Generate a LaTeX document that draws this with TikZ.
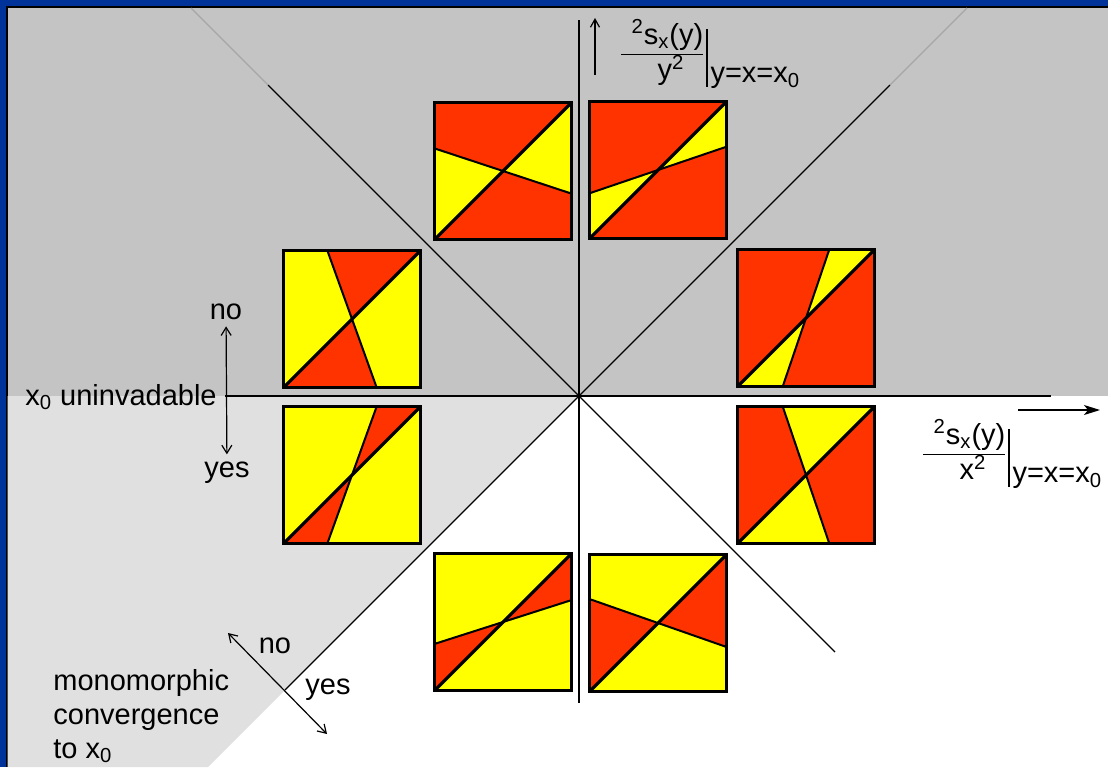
\documentclass[tikz,border=0pt]{standalone}
\usepackage{fontspec}
\setmainfont{Liberation Sans}
\usetikzlibrary{arrows.meta}
\definecolor{slideblue}{RGB}{0,51,153}
\definecolor{upgray}{RGB}{196,196,196}
\definecolor{lowgray}{RGB}{224,224,224}
\definecolor{pipred}{RGB}{255,51,0}
\definecolor{pipyellow}{RGB}{255,255,0}
% one sign plot: centre, background, wedge colour, end point of the second line
\newcommand{\pipsquare}[6]{%
  \begin{scope}[shift={(#1,#2)}, xscale=68.5, yscale=-68.5]
    \fill[#3] (-1,-1) rectangle (1,1);
    \fill[#4] (0,0) -- (1,1) -- (#5,#6) -- cycle
              (0,0) -- (-1,-1) -- ({-(#5)},{-(#6)}) -- cycle;
    \draw[sepline] (#5,#6) -- ({-(#5)},{-(#6)});
    \draw[diagline] (-1,-1) -- (1,1);
    \draw[boxline] (-1,-1) rectangle (1,1);
  \end{scope}}
\newcommand{\dtwo}[1]{%
  \begin{tabular}{@{}c@{}}\hspace{0.35em}\textsuperscript{2}s\textsubscript{x}(y)\\\hline\hspace{0.6em}#1\textsuperscript{2}\end{tabular}%
  \hspace{1.5pt}\vrule width 0.6pt height 16.6pt depth 12.4pt\hspace{1.5pt}%
  \raisebox{-10.4pt}{y=x=x\textsubscript{0}}}

\begin{document}
\begin{tikzpicture}[x=0.5pt, y=-0.5pt, font=\fontsize{14.5}{17}\selectfont,
  axis/.style={line width=0.6pt},
  faint/.style={line width=0.6pt, black!35},
  boxline/.style={line width=1.6pt},
  diagline/.style={line width=1.6pt},
  sepline/.style={line width=1pt},
  twoway/.style={line width=0.6pt, {Straight Barb[length=4pt,width=5pt]}-{Straight Barb[length=4pt,width=5pt]}}]
\useasboundingbox (0,0) rectangle (1108,767);
% background
\fill[slideblue] (0,0) rectangle (1108,6);
\fill[slideblue] (0,0) rectangle (6,767);
\draw[line width=1pt] (7,767) -- (7,7) -- (1108,7);
\coordinate (O) at (579,396);
\fill[upgray] (7.5,7.5) rectangle (1108,396);
\fill[lowgray] (7.5,396) -- (O) -- (208,767) -- (7.5,767) -- cycle;
% axes and diagonals
\draw[axis] (225,396) -- (1051,396);
\draw[axis] (579,20) -- (579,703);
\draw[axis] (O) -- (268,85);
\draw[faint] (268,85) -- (191,8);
\draw[axis] (O) -- (890,85);
\draw[faint] (890,85) -- (967,8);
\draw[axis] (O) -- (835,652);
\draw[axis] (O) -- (285,690);
\draw[line width=0.6pt, -{Straight Barb[length=4pt,width=4.5pt]}] (595,75) -- (595,18);
\draw[line width=0.6pt, -{Stealth[length=8pt,width=5pt,inset=2pt]}] (1018,410) -- (1100,410);
% sign plots
\pipsquare{503}{171}{pipred}{pipyellow}{1}{-0.33}
\pipsquare{658}{170}{pipred}{pipyellow}{1}{0.34}
\pipsquare{352}{319}{pipyellow}{pipred}{-0.36}{1}
\pipsquare{806}{318}{pipred}{pipyellow}{0.34}{1}
\pipsquare{806}{475}{pipred}{pipyellow}{-0.34}{1}
\pipsquare{352}{475}{pipyellow}{pipred}{0.36}{1}
\pipsquare{503}{622}{pipyellow}{pipred}{1}{0.32}
\pipsquare{658}{623}{pipyellow}{pipred}{1}{-0.35}
% labels
\node[anchor=base west, inner sep=0pt] (ylab) at (621,62) {\dtwo{y}};
\node[anchor=base west, inner sep=0pt] (xlab) at (923,462) {\dtwo{x}};
\node[anchor=base] (invno) at (226,319) {no};
\node[anchor=base] (invyes) at (227,477) {yes};
\node[anchor=base west, inner sep=0pt] (uninv) at (25,405) {x\textsubscript{0} uninvadable};
\draw[twoway] (invno) -- (invyes);
\coordinate (convno) at (228,633);
\coordinate (convyes) at (327,734);
\draw[twoway] (convno) -- (convyes);
\node[anchor=base] (monono) at (275,653) {no};
\node[anchor=base] (monoyes) at (328,694) {yes};
\node[anchor=north west, align=left, inner sep=0pt] (mono) at (53,669) {monomorphic\\convergence\\to x\textsubscript{0}};
\end{tikzpicture}
\end{document}
